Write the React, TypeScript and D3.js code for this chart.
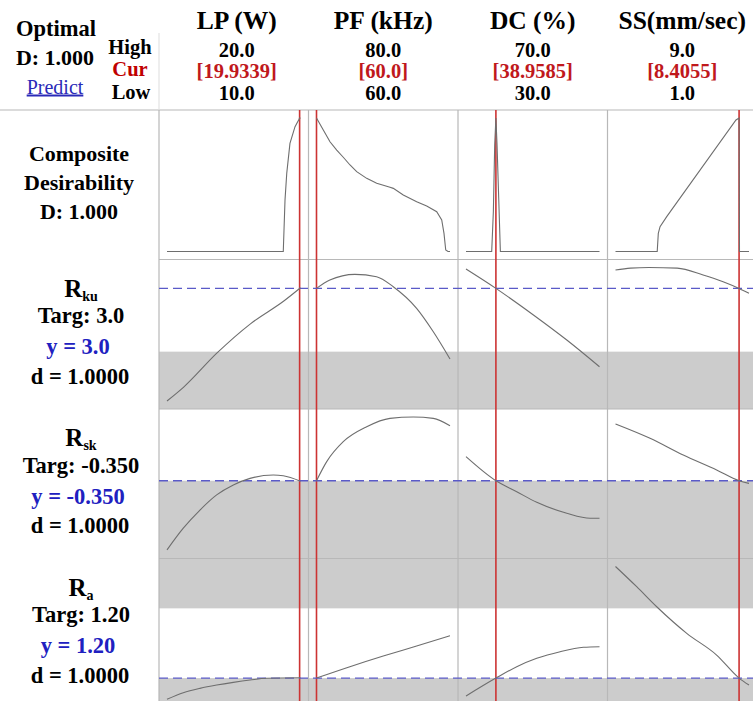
import * as d3 from 'd3';

type Pt = [number, number];

// factor settings
const factorNames = ["LP (W)", "PF (kHz)", "DC (%)", "SS(mm/sec)"];
const highLabels = ["20.0", "80.0", "70.0", "9.0"];
const curLabels = ["[19.9339]", "[60.0]", "[38.9585]", "[8.4055]"];
const lowLabels = ["10.0", "60.0", "30.0", "1.0"];
const lows = [10, 60, 30, 1];
const highs = [20, 80, 70, 9];
const curs = [19.9339, 60.0, 38.9585, 8.4055];

// composite desirability traces
const dLP: Pt[] = [[10, 0], [18.71, 0], [18.84, 0.386], [18.97, 0.586], [19.21, 0.81], [19.59, 0.935], [19.89, 0.99], [19.9339, 1.0], [20, 0.998]];
const dPF: Pt[] = [[60, 1.0], [61.02, 0.91], [62.02, 0.822], [63.03, 0.76], [64.01, 0.706], [65.02, 0.648], [66.02, 0.598], [67.52, 0.548], [69.02, 0.511], [71.01, 0.481], [71.51, 0.473], [73.0, 0.423], [75.01, 0.373], [76.51, 0.341], [78.01, 0.298], [78.76, 0.236], [79.1, 0.136], [79.36, 0.011], [79.7, 0], [80, 0]];
const dDC: Pt[] = [[30, 0], [37.7, 0], [38.2, 0.3], [38.6, 0.8], [38.9585, 1.0], [39.3, 0.8], [39.8, 0.4], [40.3, 0], [70, 0]];
const dSS: Pt[] = [[1, 0], [3.5, 0], [3.565, 0.136], [3.67, 0.186], [4.07, 0.261], [8.22, 0.985], [8.4055, 1.0], [8.43, 0], [9, 0]];

// Rku traces
const kuLP: Pt[] = [[10, 2.11], [11.25, 2.22], [13.75, 2.49], [16.25, 2.72], [18.75, 2.9], [20, 3.005]];
const kuPF: Pt[] = [[60, 3.0], [62, 3.066], [65.75, 3.111], [69, 3.092], [71.5, 3.013], [75, 2.842], [77.5, 2.657], [80, 2.442]];
const kuDC: Pt[] = [[30, 3.153], [38.96, 3.0], [50.2, 2.79], [60.2, 2.592], [70, 2.381]];
const kuSS: Pt[] = [[1, 3.145], [1.9, 3.16], [3.0, 3.165], [4.7, 3.16], [6.25, 3.106], [7.45, 3.053], [8.4055, 3.0], [9, 2.961]];

// Rsk traces
const skLP: Pt[] = [[10, -0.697], [11.22, -0.588], [12.47, -0.497], [13.72, -0.421], [14.97, -0.371], [16.22, -0.338], [17.96, -0.321], [18.71, -0.325], [20, -0.352]];
const skPF: Pt[] = [[60, -0.35], [61.53, -0.254], [64.01, -0.154], [67.52, -0.079], [71.01, -0.037], [74.5, -0.03], [77.5, -0.037], [80, -0.074]];
const skDC: Pt[] = [[30, -0.229], [38.96, -0.35], [45.2, -0.405], [51.2, -0.458], [60.2, -0.513], [67.2, -0.538], [70, -0.538]];
const skSS: Pt[] = [[1, -0.065], [3.07, -0.137], [5.06, -0.221], [7.06, -0.296], [8.4055, -0.35], [9, -0.363]];

// Ra traces
const raLP: Pt[] = [[10, 0.987], [11.22, 1.053], [12.47, 1.097], [13.72, 1.13], [14.97, 1.157], [16.22, 1.18], [17.47, 1.198], [20, 1.203]];
const raPF: Pt[] = [[60, 1.2], [65, 1.314], [70, 1.421], [75, 1.522], [80, 1.625]];
const raDC: Pt[] = [[30, 1.02], [38.96, 1.2], [45.2, 1.314], [51.2, 1.398], [58.2, 1.465], [65.2, 1.509], [70, 1.515]];
const raSS: Pt[] = [[1, 2.32], [2.27, 2.117], [3.47, 1.916], [5.27, 1.649], [7.06, 1.431], [8.4055, 1.2], [9, 1.13]];

// response rows
const yDomains: Pt[] = [[0, 1], [2.11, 3.165], [-0.70, -0.03], [0.98, 2.32]];
const targets = [null, 3.0, -0.35, 1.2];
// ranges where d = 0 (shaded)
const zeroBands: Pt[][] = [[], [[-Infinity, 2.5]], [[-Infinity, -0.35]], [[-Infinity, 1.2], [1.9, Infinity]]];
const traces: Pt[][][] = [
  [dLP, dPF, dDC, dSS],
  [kuLP, kuPF, kuDC, kuSS],
  [skLP, skPF, skDC, skSS],
  [raLP, raPF, raDC, raSS],
];

const respLabels = [
  { name: "R", sub: "ku", targ: "Targ: 3.0", y: "y = 3.0", d: "d = 1.0000" },
  { name: "R", sub: "sk", targ: "Targ: -0.350", y: "y = -0.350", d: "d = 1.0000" },
  { name: "R", sub: "a", targ: "Targ: 1.20", y: "y = 1.20", d: "d = 1.0000" },
];

const W = 753;
const H = 701;
const x0 = 159;
const colW = 149.5;
const y0 = 110;
const rowH = 149.5;
const pad = 8;
const gridColor = "#b8b8b8";
const font = "'Liberation Serif', 'Times New Roman', serif";

const App = () => {
  const xScales = lows.map((lo, c) =>
    d3.scaleLinear().domain([lo, highs[c]]).range([x0 + c * colW + pad, x0 + (c + 1) * colW - pad])
  );
  const yScales = yDomains.map((dom, r) =>
    d3.scaleLinear().domain(dom).range([y0 + (r + 1) * rowH - pad, y0 + r * rowH + pad])
  );

  return (
    <svg width={W} height={H} style={{ position: 'absolute', left: 0, top: 0, background: '#fff' }} fontFamily={font}>
      <rect x={0} y={0} width={W} height={H} fill="#fff" />

      {/* shaded zero-desirability bands */}
      {zeroBands.map((bands, r) => {
        const top = y0 + r * rowH;
        const bottom = top + rowH;
        return bands.map((b, i) => {
          const ya = Number.isFinite(b[1]) ? yScales[r](b[1]) : top;
          const yb = Number.isFinite(b[0]) ? yScales[r](b[0]) : bottom;
          return <rect key={`b${r}-${i}`} x={x0} y={Math.max(top, ya)} width={W - x0 + 10} height={Math.min(bottom, yb) - Math.max(top, ya)} fill="#cccccc" />;
        });
      })}

      {/* grid */}
      <line x1={0} x2={W} y1={y0} y2={y0} stroke={gridColor} strokeWidth={1.2} />
      <line x1={x0} x2={x0} y1={33} y2={y0} stroke="#dddddd" strokeWidth={1} />
      {[1, 2, 3].map(r => (
        <line key={`h${r}`} x1={x0} x2={W} y1={y0 + r * rowH} y2={y0 + r * rowH} stroke={gridColor} strokeWidth={1.2} />
      ))}
      {[0, 1, 2, 3, 4].map(c => (
        <line key={`v${c}`} x1={x0 + c * colW} x2={x0 + c * colW} y1={y0} y2={H} stroke={gridColor} strokeWidth={1.2} />
      ))}

      {/* current settings */}
      {curs.map((v, c) => (
        <line key={`red${c}`} x1={xScales[c](v)} x2={xScales[c](v)} y1={y0} y2={H} stroke="#cc3333" strokeWidth={1.6} />
      ))}

      {/* targets */}
      {targets.map((t, r) => t === null ? null : (
        <line key={`t${r}`} x1={x0} x2={W} y1={yScales[r](t)} y2={yScales[r](t)} stroke="#5a5ac8" strokeWidth={1.4} strokeDasharray="9,5" />
      ))}

      {/* traces */}
      {traces.map((row, r) => row.map((pts, c) => {
        const line = d3.line<Pt>()
          .x(d => xScales[c](d[0]))
          .y(d => yScales[r](d[1]))
          .curve(r === 0 ? d3.curveLinear : d3.curveMonotoneX);
        return <path key={`p${r}-${c}`} d={line(pts) || ""} fill="none" stroke="#6e6e6e" strokeWidth={1.1} />;
      }))}

      {/* header */}
      <g fontWeight="bold" textAnchor="middle">
        <text x={56} y={36} fontSize={22.5}>Optimal</text>
        <text x={55} y={65} fontSize={22}>D: 1.000</text>
        <text x={130} y={54} fontSize={20.5}>High</text>
        <text x={130} y={75.5} fontSize={20.5} fill="#c00000">Cur</text>
        <text x={131} y={98.5} fontSize={20.5}>Low</text>
        {factorNames.map((f, c) => {
          const cx = x0 + (c + 0.5) * colW + (c === 0 ? 3 : 0);
          return (
            <g key={`f${c}`}>
              <text x={cx} y={29} fontSize={25.5}>{f}</text>
              <text x={cx} y={57} fontSize={20.5}>{highLabels[c]}</text>
              <text x={cx} y={78} fontSize={20.5} fill="#c0181c">{curLabels[c]}</text>
              <text x={cx} y={99.5} fontSize={20.5}>{lowLabels[c]}</text>
            </g>
          );
        })}
      </g>
      <text x={55} y={93.5} fontSize={20} textAnchor="middle" fill="#2a2ab8" textDecoration="underline">Predict</text>

      {/* row labels */}
      <g fontWeight="bold" textAnchor="middle">
        <text x={79} y={161} fontSize={22}>Composite</text>
        <text x={79} y={190} fontSize={22}>Desirability</text>
        <text x={79} y={219} fontSize={22}>D: 1.000</text>
        {respLabels.map((l, i) => {
          const top = y0 + (i + 1) * rowH;
          return (
            <g key={`l${i}`}>
              <text x={81} y={top + 37} fontSize={25}>
                {l.name}<tspan fontSize={14} dy={4}>{l.sub}</tspan>
              </text>
              <text x={81} y={top + 63.5} fontSize={22.5}>{l.targ}</text>
              <text x={78} y={top + 94.5} fontSize={22.5} fill="#2020c0">{l.y}</text>
              <text x={80} y={top + 124} fontSize={22.5}>{l.d}</text>
            </g>
          );
        })}
      </g>
    </svg>
  );
};

export default App;
